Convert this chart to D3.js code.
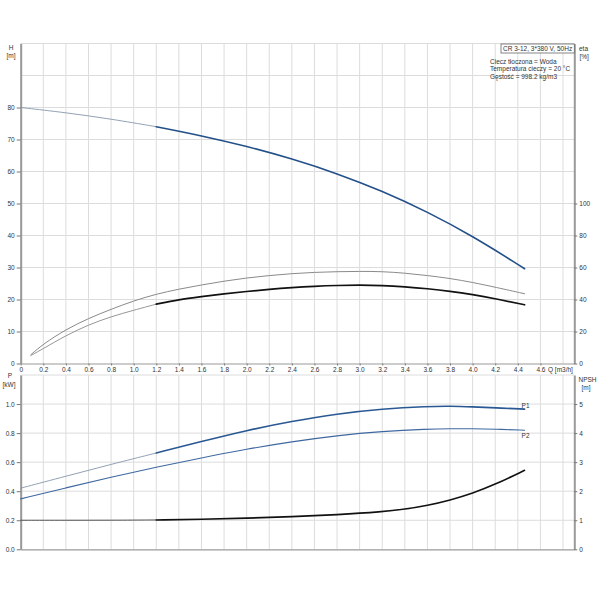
<!DOCTYPE html>
<html>
<head>
<meta charset="utf-8">
<script src="https://cdn.jsdelivr.net/npm/d3@7"></script>
<style>
  body { margin: 0; background: #fff; }
  text { font-family: "Liberation Sans", Arial, sans-serif; fill: #333; }
</style>
</head>
<body>
<div class="chart"></div>
<script>
// pump curve data
const qH = [0, 0.4, 0.8, 1.2, 1.6, 2.0, 2.4, 2.8, 3.2, 3.6, 4.0, 4.4, 4.46];
const headVals = [80, 78.4, 76.4, 74.0, 71.2, 67.9, 64.0, 59.4, 53.9, 47.4, 39.8, 31.0, 29.6];

const qEta = [0.09, 0.2, 0.4, 0.6, 0.8, 1.0, 1.2, 1.4, 1.6, 1.8, 2.0, 2.2, 2.4, 2.6, 2.8, 3.0, 3.2, 3.4, 3.6, 3.8, 4.0, 4.2, 4.46];
const etaTotal = [5.5, 12.2, 21.3, 28.2, 33.9, 39.2, 43.4, 46.5, 49.1, 51.5, 53.5, 55.0, 56.2, 57.0, 57.4, 57.6, 57.5, 56.5, 55.0, 53.2, 50.7, 47.7, 43.6];
const etaPump = [5.0, 9.3, 17.5, 24.2, 29.3, 33.3, 37.1, 40.0, 41.8, 43.6, 45.0, 46.4, 47.5, 48.3, 48.8, 49.0, 48.8, 48.0, 46.8, 45.2, 43.1, 40.5, 36.7];

const qP = [0, 0.4, 0.8, 1.2, 1.6, 2.0, 2.4, 2.8, 3.2, 3.6, 3.8, 4.0, 4.2, 4.46];
const p1Vals = [0.421, 0.503, 0.585, 0.663, 0.742, 0.819, 0.881, 0.933, 0.967, 0.984, 0.986, 0.981, 0.974, 0.965];
const p2Vals = [0.347, 0.423, 0.497, 0.565, 0.630, 0.690, 0.741, 0.783, 0.812, 0.828, 0.831, 0.830, 0.827, 0.820];

const qN = [0, 0.4, 0.8, 1.2, 1.6, 2.0, 2.4, 2.8, 3.2, 3.4, 3.6, 3.8, 4.0, 4.2, 4.46];
const npshVals = [1.0, 1.0, 1.0, 1.01, 1.03, 1.07, 1.12, 1.19, 1.29, 1.38, 1.51, 1.69, 1.93, 2.23, 2.72];

const xTicks = d3.range(0, 4.61, 0.2);
const hTicks = d3.range(0, 81, 10);
const etaTicks = [0, 20, 40, 60, 80, 100];
const pTicks = [0, 0.2, 0.4, 0.6, 0.8, 1.0];
const npshTicks = [0, 1, 2, 3, 4, 5];
const infoLines = ["Ciecz tłoczona = Woda", "Temperatura cieczy = 20 °C", "Gęstość = 998.2 kg/m3"];
const pumpTitle = "CR 3-12, 3*380 V, 50Hz";

const svgWidth = 600;
const svgHeight = 600;
const left = 20.7, right = 574.3;
const topPanel = { top: 43.5, bottom: 363.5 };
const botPanel = { top: 375, bottom: 549.3 };
const splitQ = 1.2;
const fontSize = "6.5px";

const svg = d3.select(".chart")
  .append("svg")
  .attr("width", svgWidth)
  .attr("height", svgHeight);

const x = d3.scaleLinear().domain([0, 4.9]).range([left, right]);
const yH = d3.scaleLinear().domain([0, 100]).range([topPanel.bottom, topPanel.top]);
const yEta = d3.scaleLinear().domain([0, 200]).range([topPanel.bottom, topPanel.top]);
const yP = d3.scaleLinear().domain([0, 1.2]).range([botPanel.bottom, botPanel.top]);
const yN = d3.scaleLinear().domain([0, 6]).range([botPanel.bottom, botPanel.top]);

const gridColor = "#dcdcdc";
const axisColor = "#9a9a9a";

// grid lines
function drawGrid(yScale, yVals, panel) {
  const g = svg.append("g");
  g.selectAll("line.v")
    .data(d3.range(0, 4.81, 0.2))
    .enter().append("line")
    .attr("x1", d => x(d)).attr("x2", d => x(d))
    .attr("y1", panel.top).attr("y2", panel.bottom)
    .attr("stroke", gridColor).attr("stroke-width", 1);
  g.selectAll("line.h")
    .data(yVals)
    .enter().append("line")
    .attr("x1", left).attr("x2", right)
    .attr("y1", d => yScale(d)).attr("y2", d => yScale(d))
    .attr("stroke", gridColor).attr("stroke-width", 1);
}
drawGrid(yH, d3.range(10, 101, 10), topPanel);
drawGrid(yP, d3.range(0.2, 1.21, 0.2), botPanel);

function styleAxis(g, showText) {
  g.select(".domain").attr("stroke", axisColor).attr("stroke-width", 2);
  g.selectAll(".tick line").attr("stroke", "#777");
  g.selectAll(".tick text").style("font-size", fontSize).attr("fill", "#333");
  if (!showText) g.selectAll(".tick text").remove();
}

// top panel axes
svg.append("g")
  .attr("transform", `translate(0, ${topPanel.bottom})`)
  .call(d3.axisBottom(x).tickValues(xTicks).tickSize(2).tickPadding(2).tickSizeOuter(0)
    .tickFormat(d => d === 0 ? "0" : d3.format(".1f")(d)))
  .call(g => styleAxis(g, true))
  .call(g => g.select(".domain").attr("stroke-width", 1.2));

svg.append("g")
  .attr("transform", `translate(${left}, 0)`)
  .call(d3.axisLeft(yH).tickValues(hTicks).tickSize(4).tickPadding(2).tickSizeOuter(0))
  .call(g => styleAxis(g, true));

svg.append("g")
  .attr("transform", `translate(${right}, 0)`)
  .call(d3.axisRight(yEta).tickValues(etaTicks).tickSize(3).tickPadding(2).tickSizeOuter(0))
  .call(g => styleAxis(g, true));

// bottom panel axes
svg.append("g")
  .attr("transform", `translate(0, ${botPanel.bottom})`)
  .call(d3.axisBottom(x).tickValues([]).tickSizeOuter(0))
  .call(g => styleAxis(g, false))
  .call(g => g.select(".domain").attr("stroke-width", 1.2));

svg.append("g")
  .attr("transform", `translate(${left}, 0)`)
  .call(d3.axisLeft(yP).tickValues(pTicks).tickSize(4).tickPadding(2).tickSizeOuter(0)
    .tickFormat(d3.format(".1f")))
  .call(g => styleAxis(g, true));

svg.append("g")
  .attr("transform", `translate(${right}, 0)`)
  .call(d3.axisRight(yN).tickValues(npshTicks).tickSize(3).tickPadding(2).tickSizeOuter(0)
    .tickFormat(d3.format("d")))
  .call(g => styleAxis(g, true));

// curves, thin before 1.2 m3/h and thick after
function drawCurve(qs, vals, yScale, thin, thick) {
  const pts = qs.map((q, i) => ({ q: q, v: vals[i] }));
  const line = d3.line()
    .x(d => x(d.q))
    .y(d => yScale(d.v))
    .curve(d3.curveBasis);
  const parts = thick
    ? [[pts.filter(d => d.q <= splitQ), thin], [pts.filter(d => d.q >= splitQ), thick]]
    : [[pts, thin]];
  parts.forEach(([data, st]) => {
    svg.append("path")
      .datum(data)
      .attr("d", line)
      .attr("fill", "none")
      .attr("stroke", st.color)
      .attr("stroke-width", st.width)
      .attr("stroke-linecap", "round");
  });
}

drawCurve(qH, headVals, yH, { color: "#8796ab", width: 0.9 }, { color: "#235089", width: 1.6 });
drawCurve(qEta, etaTotal, yEta, { color: "#8a8a8a", width: 1 }, null);
drawCurve(qEta, etaPump, yEta, { color: "#8a8a8a", width: 0.9 }, { color: "#111", width: 1.7 });
drawCurve(qP, p1Vals, yP, { color: "#8796ab", width: 0.9 }, { color: "#2a5893", width: 1.6 });
drawCurve(qP, p2Vals, yP, { color: "#3f68a0", width: 1.1 }, null);
drawCurve(qN, npshVals, yN, { color: "#555", width: 1 }, { color: "#111", width: 1.6 });

// curve labels
svg.append("text").attr("x", x(4.46) - 3).attr("y", yP(p1Vals[p1Vals.length - 1]) - 1.5)
  .style("font-size", fontSize).attr("fill", "#3f68a0").text("P1");
svg.append("text").attr("x", x(4.46) - 3).attr("y", yP(p2Vals[p2Vals.length - 1]) + 8)
  .style("font-size", fontSize).attr("fill", "#3f68a0").text("P2");

// axis titles
function label(tx, ty, str, anchor) {
  svg.append("text")
    .attr("x", tx).attr("y", ty)
    .attr("text-anchor", anchor || "start")
    .style("font-size", fontSize)
    .text(str);
}
label(11, 49.5, "H", "middle");
label(11, 58, "[m]", "middle");
label(579, 50.5, "eta");
label(579.5, 59, "[%]");
label(10, 377.5, "P", "middle");
label(9, 387, "[kW]", "middle");
label(578.5, 381.5, "NPSH");
label(581.5, 390, "[m]");
label(548, 371.8, "Q [m3/h]");

// pump info box
svg.append("rect")
  .attr("x", 501).attr("y", 44)
  .attr("width", right - 501).attr("height", 9)
  .attr("fill", "#fff").attr("stroke", "#666").attr("stroke-width", 0.8);
label(503, 51, pumpTitle);
infoLines.forEach((t, i) => label(490, 63.5 + i * 7.5, t));
</script>
</body>
</html>
